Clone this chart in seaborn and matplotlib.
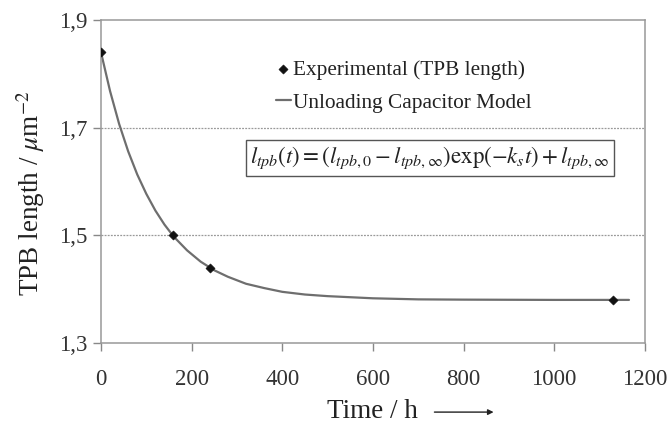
import matplotlib
matplotlib.use("Agg")
import matplotlib.pyplot as plt
import seaborn as sns
import pandas as pd

# experimental TPB length
t_exp = [0, 160, 240, 1130]
l_exp = [1.84, 1.50, 1.44, 1.38]

# unloading capacitor model
t_model = [0, 20, 40, 60, 80, 100, 120, 140, 160, 190, 220, 250, 280, 320,
           360, 400, 450, 500, 600, 700, 800, 1000, 1165]
l_model = [1.840, 1.768, 1.707, 1.656, 1.613, 1.577, 1.546, 1.520, 1.498,
           1.472, 1.451, 1.435, 1.423, 1.410, 1.402, 1.395, 1.390, 1.387,
           1.383, 1.381, 1.3805, 1.380, 1.380]

x_ticks = [0, 200, 400, 600, 800, 1000, 1200]
y_ticks = [1.3, 1.5, 1.7, 1.9]
y_ticklabels = ["1,3", "1,5", "1,7", "1,9"]

sns.set_style("white")
plt.rcParams['font.family'] = ['Liberation Serif', 'DejaVu Serif']
plt.rcParams['mathtext.fontset'] = 'stix'

df_exp = pd.DataFrame({'t': t_exp, 'l': l_exp})
df_mod = pd.DataFrame({'t': t_model, 'l': l_model})

fig = plt.figure(figsize=(6.71, 4.25), dpi=100)
ax = fig.add_axes([0.1505, 0.193, 0.8105, 0.760])

sns.lineplot(data=df_mod, x='t', y='l', ax=ax, color='#6e6e6e', lw=1.6,
             label='Unloading Capacitor Model', zorder=2)
sns.scatterplot(data=df_exp, x='t', y='l', ax=ax, marker='D', s=22,
                color='#111111', edgecolor='#111111',
                label='Experimental (TPB length)', zorder=3)

ax.set_xlim(0, 1200)
ax.set_ylim(1.3, 1.9)
ax.set_xticks(x_ticks)
ax.set_xticklabels([str(v) for v in x_ticks])
ax.set_yticks(y_ticks)
ax.set_yticklabels(y_ticklabels)
ax.tick_params(axis='both', labelsize=16.5, labelcolor='#333333', length=6,
               width=1, direction='out', bottom=True, left=True,
               color='#888888')
ax.tick_params(axis='x', pad=13)
ax.tick_params(axis='y', pad=4)

for y in [1.5, 1.7]:
    ax.axhline(y, color='#999999', lw=0.9, ls=(0, (1.5, 1.0)), zorder=1)

for sp in ax.spines.values():
    sp.set_color('#999999')
    sp.set_linewidth(1.1)

ax.set_xlabel('Time / h', fontsize=19.5, color='#222222', labelpad=6)
ax.set_ylabel(r'TPB length / $\mu$m$^{-2}$', fontsize=19.5, color='#222222',
              labelpad=8, y=0.464)

# arrow next to x label
ax.annotate('', xy=(0.727, -0.214), xytext=(0.608, -0.214),
            xycoords='axes fraction',
            arrowprops=dict(arrowstyle='-|>', color='#222222', lw=1.0,
                            mutation_scale=8))

h, lab = ax.get_legend_handles_labels()
ax.legend([h[1], h[0]], [lab[1], lab[0]], loc='upper left',
          bbox_to_anchor=(0.286, 0.935), frameon=False, fontsize=15.3,
          handlelength=0.7, handletextpad=0.1, labelspacing=0.6,
          labelcolor='#222222')

ax.text(0.605, 0.573,
        r'$l_{tpb}(t) = \left(l_{tpb,0} - l_{tpb,\infty}\right)\exp(-k_s t) + l_{tpb,\infty}$',
        transform=ax.transAxes, ha='center', va='center', fontsize=16.5,
        color='#222222',
        bbox=dict(boxstyle='square,pad=0.2', fc='white', ec='#555555', lw=1))

fig.savefig('out.png', dpi=100)
